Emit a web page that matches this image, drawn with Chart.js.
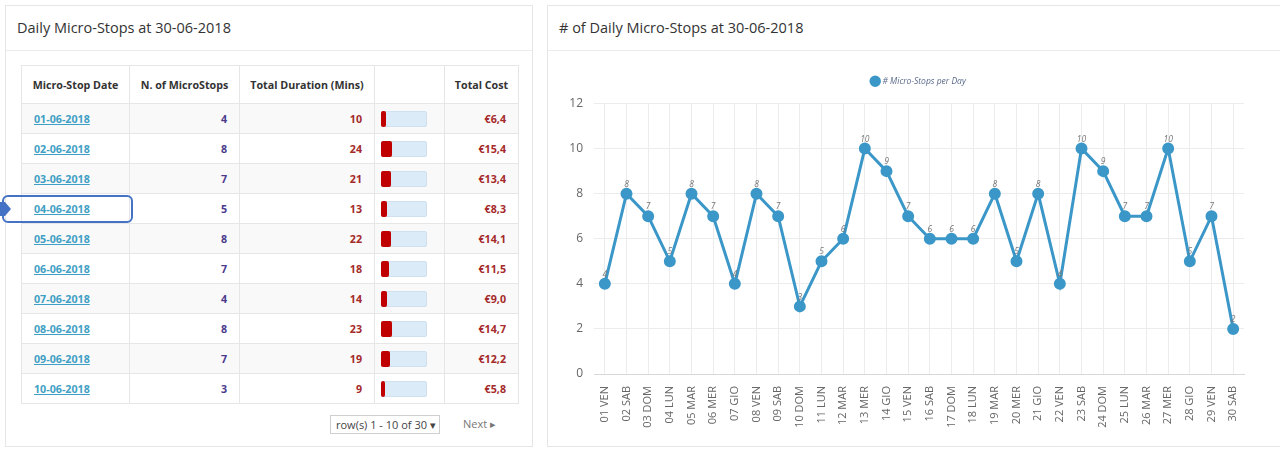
<!DOCTYPE html>
<html lang="en">
<head>
    <meta charset="UTF-8">
    <title>Daily Micro-Stops</title>
    <style>
        body {
            margin: 0;
            padding: 0;
            width: 1280px;
            height: 450px;
            overflow: hidden;
            background: #fff;
            font-family: "Open Sans", Arial, sans-serif;
            position: relative;
        }

        .panel {
            position: absolute;
            top: 5px;
            background: #fff;
            border: 1px solid #e6e6e6;
            box-sizing: border-box;
        }

        .panel-left { left: 5px; width: 528px; height: 442px; }
        .panel-right { left: 547px; width: 740px; height: 442px; }

        .panel-header {
            height: 45px;
            border-bottom: 1px solid #ececec;
            box-sizing: border-box;
            padding: 12px 0 0 11px;
            font-size: 14.5px;
            color: #333;
        }

        .report {
            position: absolute;
            left: 15px;
            top: 59px;
            width: 497px;
            border-collapse: collapse;
            table-layout: fixed;
            font-size: 10.7px;
        }

        .report th, .report td {
            border: 1px solid #e6e6e6;
            padding: 0 12px;
            white-space: nowrap;
        }

        .report th {
            height: 37px;
            font-weight: bold;
            color: #333;
            text-align: center;
            background: #fff;
            padding: 0 4px;
        }

        .report td {
            height: 29px;
            font-weight: bold;
            text-align: right;
        }

        .report tbody tr:nth-child(odd) td { background: #f9f9f9; }

        .report td.date { text-align: left; }
        .report td.date a { color: #3f9fc4; text-decoration: underline; }
        .report td.stops { color: #4b3a8c; }
        .report td.dur, .report td.cost { color: #a52a2a; }
        .report td.bar { padding: 0 6px; text-align: left; }

        .track {
            width: 46px;
            height: 16px;
            background: #dcebf8;
            border: 1px solid #cfe0ef;
            border-radius: 2px;
            box-sizing: border-box;
            position: relative;
        }

        .fill {
            position: absolute;
            left: -1px;
            top: -1px;
            height: 16px;
            background: #c00000;
            border-radius: 2px;
        }

        .pager {
            position: absolute;
            left: 324px;
            top: 409px;
            width: 110px;
            height: 19px;
            border: 1px solid #cfcfcf;
            box-sizing: border-box;
            font-size: 11px;
            color: #444;
            line-height: 17px;
            padding-left: 5px;
            white-space: nowrap;
        }

        .next {
            position: absolute;
            left: 457px;
            top: 410px;
            font-size: 11px;
            color: #777;
        }

        .callout {
            position: absolute;
            left: 2px;
            top: 195px;
            width: 131px;
            height: 28px;
            border: 2px solid #4472c4;
            border-radius: 6px;
            box-sizing: border-box;
        }

        .callout-arrow {
            position: absolute;
            left: 0;
            top: 202px;
            width: 5px;
            height: 14px;
            background: #4472c4;
        }

        .callout-arrow::after {
            content: "";
            position: absolute;
            left: 5px;
            top: 0;
            border-top: 7px solid transparent;
            border-bottom: 7px solid transparent;
            border-left: 6px solid #4472c4;
        }

        .chart-box {
            position: absolute;
            left: 0;
            top: 46px;
            width: 733px;
            height: 394px;
        }
    </style>
</head>
<body>
    <div class="panel panel-left">
        <div class="panel-header">Daily Micro-Stops at 30-06-2018</div>
        <table class="report">
            <colgroup>
                <col style="width:108px"><col style="width:110px"><col style="width:135px"><col style="width:70px"><col style="width:74px">
            </colgroup>
            <thead>
                <tr>
                    <th>Micro-Stop Date</th>
                    <th>N. of MicroStops</th>
                    <th>Total Duration (Mins)</th>
                    <th></th>
                    <th>Total Cost</th>
                </tr>
            </thead>
            <tbody id="reportBody"></tbody>
        </table>
        <div class="pager">row(s) 1 - 10 of 30 &#9662;</div>
        <div class="next">Next &#9656;</div>
    </div>

    <div class="callout-arrow"></div>
    <div class="callout"></div>

    <div class="panel panel-right">
        <div class="panel-header"># of Daily Micro-Stops at 30-06-2018</div>
        <div class="chart-box"><canvas id="stopsChart"></canvas></div>
    </div>

    <script src="https://cdn.jsdelivr.net/npm/chart.js"></script>
    <script>
        // table data (first page)
        const tableDates = ['01-06-2018', '02-06-2018', '03-06-2018', '04-06-2018', '05-06-2018',
                            '06-06-2018', '07-06-2018', '08-06-2018', '09-06-2018', '10-06-2018'];
        const tableStops = [4, 8, 7, 5, 8, 7, 4, 8, 7, 3];
        const tableDurations = [10, 24, 21, 13, 22, 18, 14, 23, 19, 9];
        const tableCosts = ['6,4', '15,4', '13,4', '8,3', '14,1', '11,5', '9,0', '14,7', '12,2', '5,8'];

        // chart data
        const dayLabels = ['01 VEN', '02 SAB', '03 DOM', '04 LUN', '05 MAR', '06 MER', '07 GIO', '08 VEN', '09 SAB', '10 DOM',
                           '11 LUN', '12 MAR', '13 MER', '14 GIO', '15 VEN', '16 SAB', '17 DOM', '18 LUN', '19 MAR', '20 MER',
                           '21 GIO', '22 VEN', '23 SAB', '24 DOM', '25 LUN', '26 MAR', '27 MER', '28 GIO', '29 VEN', '30 SAB'];
        const microStops = [4, 8, 7, 5, 8, 7, 4, 8, 7, 3,
                            5, 6, 10, 9, 7, 6, 6, 6, 8, 5,
                            8, 4, 10, 9, 7, 7, 10, 5, 7, 2];

        const reportBody = document.getElementById('reportBody');
        tableDates.forEach((d, i) => {
            const row = document.createElement('tr');
            row.innerHTML = `
                <td class="date"><a href="#">${d}</a></td>
                <td class="stops">${tableStops[i]}</td>
                <td class="dur">${tableDurations[i]}</td>
                <td class="bar"><div class="track"><div class="fill" style="width:${Math.max(3, tableDurations[i] * 0.46)}px"></div></div></td>
                <td class="cost">&euro;${tableCosts[i]}</td>
            `;
            reportBody.appendChild(row);
        });

        // small italic value above each point
        const valueLabels = {
            id: 'valueLabels',
            afterDatasetsDraw(chart) {
                const ctx = chart.ctx;
                const meta = chart.getDatasetMeta(0);
                ctx.save();
                ctx.font = 'italic 8.5px "Open Sans", sans-serif';
                ctx.fillStyle = '#777';
                ctx.textAlign = 'center';
                ctx.textBaseline = 'bottom';
                meta.data.forEach((pt, i) => {
                    ctx.fillText(chart.data.datasets[0].data[i], pt.x, pt.y - 5);
                });
                ctx.restore();
            }
        };

        // extra space under the legend, and centre it over the plot area
        const legendTweak = {
            id: 'legendTweak',
            beforeInit(chart) {
                const legend = chart.legend;
                const fit = legend.fit;
                legend.fit = function () {
                    fit.call(legend);
                    this.height += 8;
                };
                const draw = legend.draw;
                legend.draw = function () {
                    chart.ctx.save();
                    chart.ctx.translate(18, 0);
                    draw.call(legend);
                    chart.ctx.restore();
                };
            }
        };

        new Chart(document.getElementById('stopsChart'), {
            type: 'line',
            data: {
                labels: dayLabels,
                datasets: [{
                    label: '# Micro-Stops per Day',
                    data: microStops,
                    borderColor: '#3b97c8',
                    backgroundColor: '#3b97c8',
                    borderWidth: 3,
                    pointRadius: 4.5,
                    pointHoverRadius: 5,
                    tension: 0,
                    fill: false
                }]
            },
            options: {
                responsive: true,
                maintainAspectRatio: false,
                animation: false,
                layout: { padding: { left: 10, right: 37, top: 6, bottom: 0 } },
                plugins: {
                    legend: {
                        labels: {
                            usePointStyle: true,
                            pointStyle: 'circle',
                            boxWidth: 6,
                            boxHeight: 6,
                            padding: 19,
                            color: '#5a6a8a',
                            font: { family: '"Open Sans", sans-serif', size: 8.5, style: 'italic' }
                        }
                    },
                    tooltip: { enabled: false }
                },
                scales: {
                    x: {
                        offset: true,
                        grid: { color: '#ececec', offset: false, drawTicks: false },
                        border: { color: '#d8d8d8' },
                        ticks: {
                            color: '#666',
                            font: { family: '"Open Sans", sans-serif', size: 11 },
                            minRotation: 90,
                            maxRotation: 90,
                            autoSkip: false,
                            padding: 12
                        },
                        afterFit(scale) { scale.height = 72; }
                    },
                    y: {
                        min: 0,
                        max: 12,
                        grid: { color: '#ececec', drawTicks: false },
                        border: { display: false },
                        ticks: {
                            stepSize: 2,
                            color: '#666',
                            padding: 11,
                            font: { family: '"Open Sans", sans-serif', size: 12 }
                        },
                        afterFit(scale) { scale.width = 36; }
                    }
                }
            },
            plugins: [valueLabels, legendTweak]
        });
    </script>
</body>
</html>
